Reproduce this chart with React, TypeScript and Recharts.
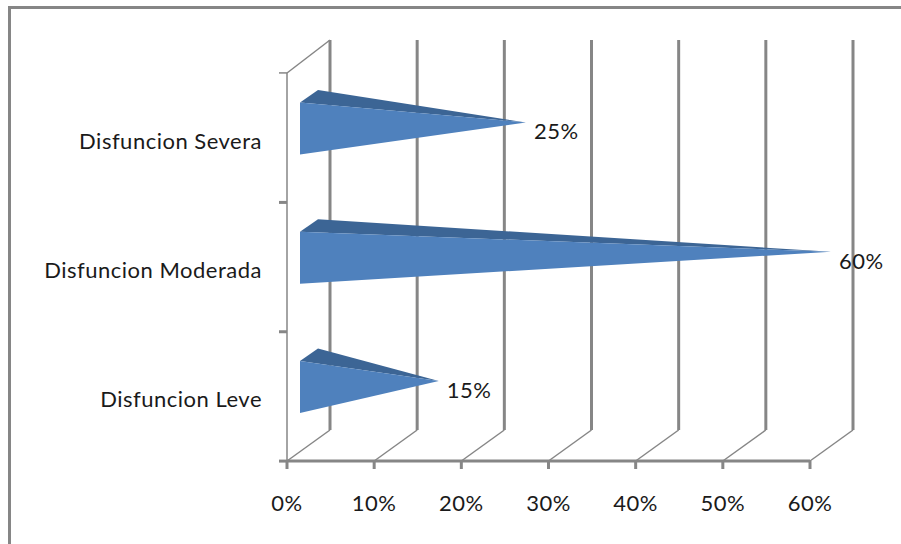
import { BarChart, Bar, XAxis, YAxis, CartesianGrid, LabelList } from "recharts";

const categories = ["Disfuncion Severa", "Disfuncion Moderada", "Disfuncion Leve"];
const values = [25, 60, 15];
const percentTicks = [0, 10, 20, 30, 40, 50, 60];

const data = categories.map((name, i) => ({ name, value: values[i] }));

const FONT = "Lato, sans-serif";
const AXIS = "#868686";
const TEXT = "#1a1a1a";
// offset of the back wall from the front plane
const WALL_X = 43;
const WALL_Y = 31;

function GridLine(props: any) {
  const { x1, y1, y2 } = props;
  const bottom = Math.max(y1, y2);
  const top = Math.min(y1, y2);
  return (
    <g>
      <line x1={x1} y1={bottom} x2={x1 + WALL_X} y2={bottom - WALL_Y} stroke={AXIS} strokeWidth={1.5} />
      <line x1={x1 + WALL_X} y1={bottom - WALL_Y} x2={x1 + WALL_X} y2={top - WALL_Y - 2} stroke={AXIS} strokeWidth={3} />
      {/* diagonal at the top of the left wall */}
      {x1 < 300 && (
        <line x1={x1} y1={top} x2={x1 + WALL_X} y2={top - WALL_Y - 2} stroke={AXIS} strokeWidth={1.5} />
      )}
    </g>
  );
}

// Pyramid lying on its side, tip at the middle of the depth
function Pyramid(props: any) {
  const { x, y, width, height } = props;
  const cy = y + height / 2;
  const tipX = x + width + 21;
  const tipY = cy - 15;
  const frontX = x + 13;
  const frontTop = cy - 35;
  const frontBottom = cy + 17;
  return (
    <g>
      <polygon points={`${frontX},${frontTop} ${frontX + 18},${frontTop - 12.5} ${tipX},${tipY}`} fill="#3C6595" />
      <polygon points={`${frontX},${frontTop} ${frontX},${frontBottom} ${tipX},${tipY}`} fill="#4F81BD" />
    </g>
  );
}

function CategoryTick(props: any) {
  const { x, y, payload, index } = props;
  const band = 129.5;
  return (
    <g>
      <line x1={x} y1={y + band / 2} x2={x + 8} y2={y + band / 2} stroke={AXIS} strokeWidth={3} />
      {index === 0 && <line x1={x} y1={y - band / 2} x2={x + 8} y2={y - band / 2} stroke={AXIS} strokeWidth={1.5} />}
      <text x={x - 17} y={y + 11} textAnchor="end" fontSize={22} letterSpacing={0.5} fontFamily={FONT} fill={TEXT}>
        {payload.value}
      </text>
    </g>
  );
}

function ValueLabel(props: any) {
  const { x, y, width, height, value } = props;
  return (
    <text x={x + width + 29} y={y + height / 2 + 2} textAnchor="start" fontSize={22} letterSpacing={0.5} fontFamily={FONT} fill={TEXT}>
      {value}%
    </text>
  );
}

export default function App() {
  return (
    <div style={{ position: "absolute", left: 0, top: 0, width: 901, height: 544, background: "#fff", overflow: "hidden" }}>
      <div style={{ position: "absolute", left: 8, top: 6, width: 893, height: 538, borderTop: `3px solid ${AXIS}`, borderLeft: `3px solid ${AXIS}`, boxSizing: "border-box" }} />
      <div style={{ position: "absolute", left: 0, top: 0 }}>
        <BarChart
          width={901}
          height={544}
          data={data}
          layout="vertical"
          margin={{ top: 73, right: 91, bottom: 0, left: 0 }}
        >
          <CartesianGrid horizontal={false} vertical={GridLine} />
          <XAxis
            type="number"
            domain={[0, 60]}
            ticks={percentTicks}
            tickFormatter={(v) => `${v}%`}
            height={83}
            interval={0}
            tickSize={8}
            tickMargin={26}
            stroke={AXIS}
            axisLine={{ stroke: AXIS, strokeWidth: 3 }}
            tickLine={{ stroke: AXIS, strokeWidth: 3 }}
            tick={{ fontSize: 22, letterSpacing: 0.5, fontFamily: FONT, fill: TEXT }}
          />
          <YAxis
            type="category"
            dataKey="name"
            width={287}
            tickLine={false}
            axisLine={{ stroke: AXIS, strokeWidth: 1.5 }}
            tick={CategoryTick}
            interval={0}
          />
          <Bar dataKey="value" shape={Pyramid} isAnimationActive={false}>
            <LabelList dataKey="value" content={ValueLabel} />
          </Bar>
        </BarChart>
      </div>
    </div>
  );
}
